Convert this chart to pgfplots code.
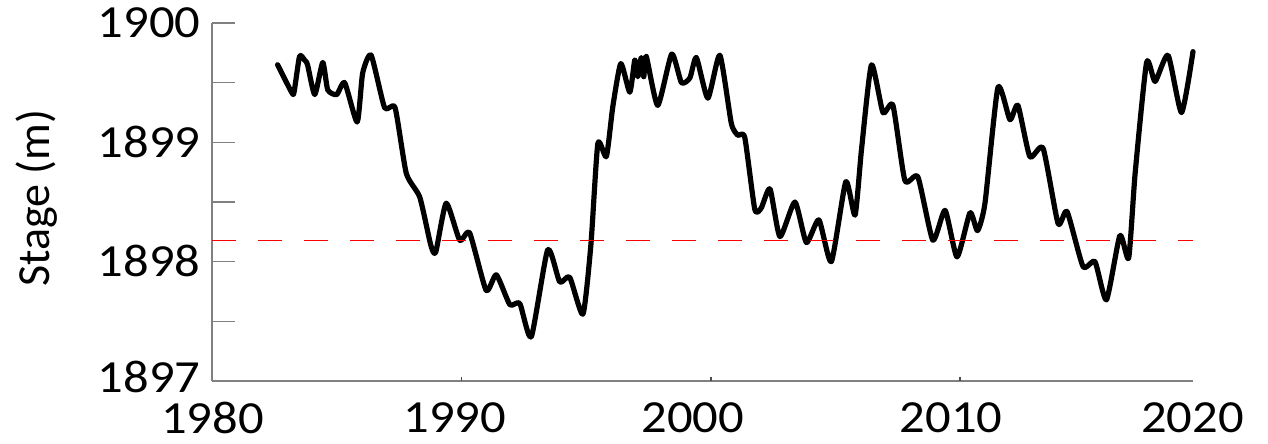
\documentclass[border=0pt]{standalone}
\usepackage{fontspec}
\setmainfont{Carlito}
\usepackage{pgfplots}
\pgfplotsset{compat=1.18}
\begin{document}
\begin{tikzpicture}
\useasboundingbox (0,0) rectangle (634pt,222pt);
\begin{axis}[
  at={(106pt,31.5pt)}, anchor=south west,
  scale only axis, width=490.5pt, height=179pt,
  xmin=1980, xmax=2019.33, ymin=1897, ymax=1900,
  axis x line*=bottom, axis y line*=left,
  axis line style={-, draw=gray, line width=0.9pt},
  tick align=inside,
  xtick={1980.02,1989.73,1999.28,2009.63,2019.31},
  xticklabels={1980,1990,2000,2010,2020},
  xtick style={draw=none},
  extra x ticks={1990,2000,2010},
  extra x tick labels={},
  extra x tick style={xtick style={draw=black!70, line width=0.9pt}},
  ytick={1897,1898,1899,1900},
  yticklabels={\raisebox{4.5pt}{1897},\raisebox{0.8pt}{1898},\raisebox{-2pt}{1899},\raisebox{-2pt}{1900}},
  minor ytick={1897,1897.5,1898,1898.5,1899,1899.5,1900},
  major tick length=2pt, minor tick length=11.5pt,
  ytick style={draw=gray, line width=0.6pt},
  tick label style={font=\fontsize{23}{27}\selectfont, xscale=1.1, inner sep=0pt},
  xticklabel style={yshift=-10.5pt},
  yticklabel style={xshift=-5pt},
  ylabel={Stage (m)},
  every axis y label/.style={at={(axis description cs:-0.1784,0.511)}, rotate=90, anchor=center, inner sep=0pt, font=\fontsize{23}{27}\selectfont},
  clip=false,
]
\addplot[black, line width=2.6pt, line join=round, line cap=round, smooth, tension=0.35] coordinates {
(1982.63,1899.65) (1983.19,1899.42) (1983.29,1899.42) (1983.51,1899.72) (1983.71,1899.69)
(1983.83,1899.65) (1984.12,1899.40) (1984.44,1899.67) (1984.64,1899.44) (1985.00,1899.40)
(1985.32,1899.50) (1985.82,1899.17) (1986.04,1899.58) (1986.38,1899.73) (1986.92,1899.29)
(1987.34,1899.29) (1987.79,1898.74) (1988.33,1898.54) (1988.77,1898.14) (1988.97,1898.08)
(1989.39,1898.49) (1989.93,1898.18) (1990.33,1898.24) (1990.99,1897.76) (1991.40,1897.89)
(1991.94,1897.64) (1992.34,1897.65) (1992.80,1897.37) (1993.46,1898.10) (1993.94,1897.83)
(1994.34,1897.87) (1994.87,1897.56) (1995.19,1898.14) (1995.47,1898.99) (1995.81,1898.88)
(1996.07,1899.30) (1996.39,1899.66) (1996.75,1899.42) (1996.95,1899.69) (1997.07,1899.55)
(1997.21,1899.71) (1997.31,1899.55) (1997.41,1899.72) (1997.87,1899.31) (1998.43,1899.74)
(1998.82,1899.50) (1999.16,1899.54) (1999.42,1899.71) (1999.88,1899.37) (2000.36,1899.73)
(2000.82,1899.16) (2001.08,1899.06) (2001.36,1899.04) (2001.76,1898.44) (2002.02,1898.45)
(2002.37,1898.61) (2002.77,1898.21) (2003.37,1898.50) (2003.83,1898.16) (2004.33,1898.35)
(2004.83,1898.00) (2005.41,1898.67) (2005.78,1898.39) (2006.04,1898.94) (2006.44,1899.65)
(2006.90,1899.25) (2007.30,1899.31) (2007.78,1898.68) (2008.30,1898.71) (2008.90,1898.18)
(2009.39,1898.43) (2009.87,1898.04) (2010.39,1898.41) (2010.69,1898.26) (2010.99,1898.49)
(2011.51,1899.46) (2011.99,1899.19) (2012.31,1899.31) (2012.79,1898.88) (2013.32,1898.95)
(2013.92,1898.32) (2014.28,1898.42) (2014.92,1897.96) (2015.40,1898.00) (2015.86,1897.68)
(2016.40,1898.22) (2016.75,1898.03) (2017.01,1898.74) (2017.47,1899.67) (2017.81,1899.51)
(2018.33,1899.73) (2018.87,1899.25) (2019.33,1899.76)
};
\addplot[red, line width=0.6pt, dash pattern=on 12pt off 11pt] coordinates {(1980,1898.18) (2019.33,1898.18)};
\end{axis}
\end{tikzpicture}
\end{document}
